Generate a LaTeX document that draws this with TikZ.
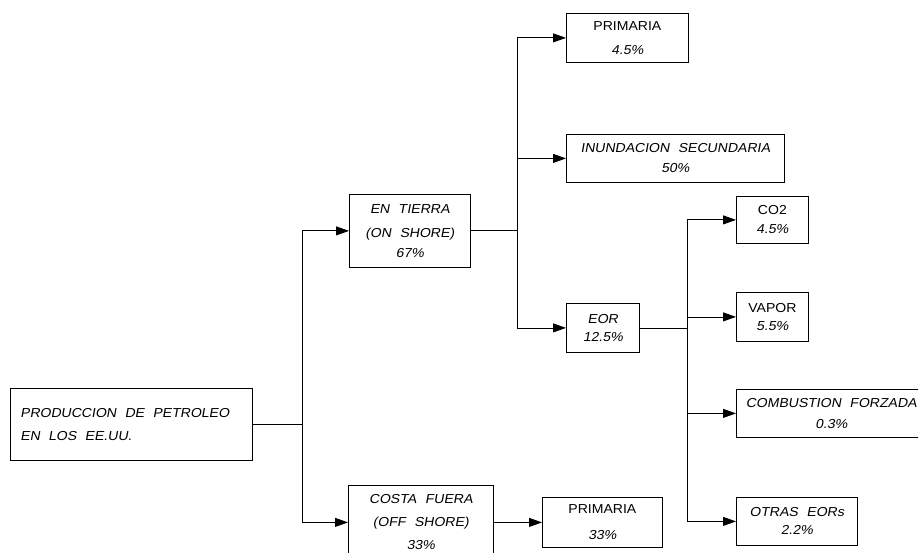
\documentclass[tikz,border=0pt]{standalone}
\usepackage{fontspec}
\setmainfont{Liberation Sans}[FakeSlant=0.18,FakeStretch=1.08,WordSpace=2.2]
\newfontfamily\uprfont{Liberation Sans}[FakeStretch=1.08,WordSpace=2.2]
\usepackage{tikz}
\usetikzlibrary{arrows.meta,positioning}

\begin{document}
\begin{tikzpicture}[x=1pt,y=-1pt,
 box/.style={draw,line width=0.8pt,align=center,inner sep=0pt,anchor=north west,font=\fontsize{13}{21}\selectfont},
 arr/.style={-{Triangle[length=13pt,width=9pt]},line width=0.8pt},
 ln/.style={line width=0.8pt}
]
\useasboundingbox (0,0) rectangle (918,553);
% origen
\node[box,minimum width=242,minimum height=72,text width=222,inner xsep=10pt,align=left,font=\fontsize{13}{23}\selectfont] (prod) at (10,388) {\spaceskip=8.5pt PRODUCCION DE PETROLEO\\EN LOS EE.UU.};
% primer nivel
\node[box,minimum width=121,minimum height=73,font=\fontsize{13}{21}\selectfont] (tierra) at (349,194) {EN TIERRA\\[3pt](ON SHORE)\\[-1pt]67\%};
\node[box,minimum width=145,minimum height=74,font=\fontsize{13}{23}\selectfont] (costa) at (348,485) {COSTA FUERA\\(OFF SHORE)\\33\%};
% segundo nivel
\node[box,minimum width=122,minimum height=49,font=\fontsize{13}{24}\selectfont] (prim1) at (566,13) {{\uprfont PRIMARIA}\\4.5\%};
\node[box,minimum width=218,minimum height=48,font=\fontsize{13}{20}\selectfont] (inund) at (566,134) {INUNDACION SECUNDARIA\\50\%};
\node[box,minimum width=73,minimum height=49,font=\fontsize{13}{18}\selectfont] (eor) at (566,303) {EOR\\12.5\%};
\node[box,minimum width=120,minimum height=50,font=\fontsize{13}{26}\selectfont] (prim2) at (542,497) {{\uprfont PRIMARIA}\\33\%};
% tercer nivel
\node[box,minimum width=72,minimum height=47,font=\fontsize{13}{19}\selectfont] (co2) at (736,196) {{\uprfont CO2}\\4.5\%};
\node[box,minimum width=72,minimum height=49,font=\fontsize{13}{18}\selectfont] (vapor) at (736,292) {{\uprfont VAPOR}\\5.5\%};
\node[box,minimum width=190,minimum height=48] (comb) at (736,389) {COMBUSTION FORZADA\\0.3\%};
\node[box,minimum width=121,minimum height=48,font=\fontsize{13}{18}\selectfont] (otras) at (736,497) {OTRAS EORs\\2.2\%};
% uniones
\coordinate[right=50pt of prod.east] (j1);
\coordinate[right=47pt of tierra.east] (j2);
\coordinate[right=48pt of eor.east] (j3);
\draw[ln] (prod.east)--(j1); \draw[arr] (j1) |- (tierra.west); \draw[arr] (j1) |- (costa.west);
\draw[ln] (tierra.east)--(j2); \draw[arr] (j2) |- (prim1.west); \draw[arr] (j2) |- (inund.west); \draw[arr] (j2) |- (eor.west);
\draw[arr] (costa.east)--(prim2.west);
\draw[ln] (eor.east)--(j3); \draw[arr] (j3) |- (co2.west); \draw[arr] (j3) |- (vapor.west); \draw[arr] (j3) |- (comb.west); \draw[arr] (j3) |- (otras.west);
\end{tikzpicture}
\end{document}
